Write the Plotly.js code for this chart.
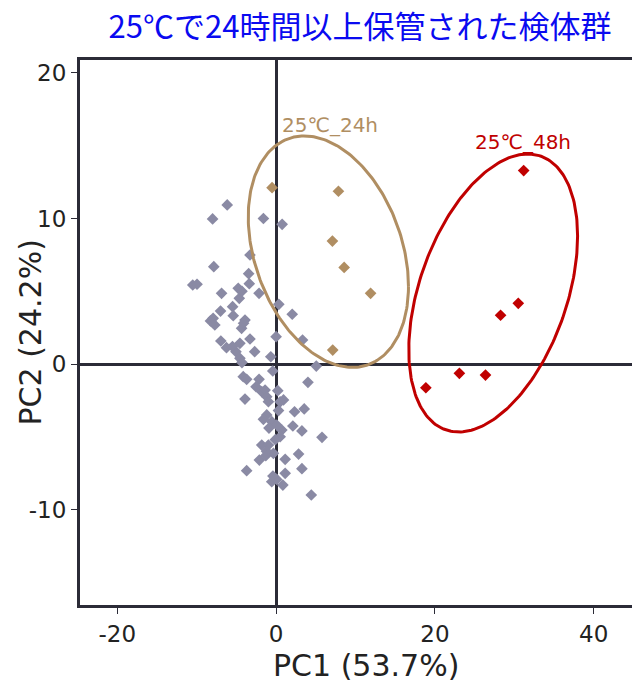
<!DOCTYPE html>
<html><head><meta charset="utf-8">
<script src="https://cdn.plot.ly/plotly-3.0.1.min.js"></script>
<style>html,body{margin:0;padding:0;overflow:hidden;background:#fff}</style>
</head><body><div id="chart" style="width:640px;height:684px"></div>
<script>
// Other samples (gray)
const otherX = [-6.16,-8.0,-1.6,0.76,-3.29,-7.85,-3.46,-3.38,-10.5,-9.96,-6.87,-4.77,-2.15,-4.64,0.34,2.03,-7.0,-5.48,-5.4,-8.27,-7.93,-7.72,-3.92,-4.35,-6.96,-6.25,-4.56,-3.29,-5.06,-4.56,-2.7,0.0,-0.67,3.33,5.06,-0.42,-4.14,-2.15,4.01,-3.71,-2.53,-1.81,-1.39,-3.92,-1.18,0.21,0.93,0.51,-0.97,2.32,3.54,-1.18,-0.55,0.08,0.72,2.11,3.25,0.51,5.78,-1.81,-0.97,-2.11,-0.34,1.14,2.83,-3.71,3.25,1.14,-0.55,0.08,0.85,4.43,-4.3,-4.1,-5.5,-4.3,-1.6,-0.9,0.3,-0.1,-1.2,-0.4,-1.3];
const otherY = [10.93,9.97,10.0,9.6,7.49,6.69,6.21,5.52,5.43,5.48,4.86,5.2,4.86,4.51,4.1,3.42,3.64,3.94,3.32,2.96,3.14,2.68,3.02,2.45,1.58,1.12,1.42,1.72,0.85,0.39,0.85,1.88,0.5,1.65,-0.14,-0.48,-0.87,-1.05,-1.26,-1.05,-1.56,-1.9,-1.79,-2.41,-2.25,-1.83,-2.47,-2.6,-2.59,-3.28,-3.09,-3.5,-3.96,-4.19,-4.54,-4.26,-4.6,-5.0,-5.04,-5.57,-5.57,-6.6,-6.14,-6.55,-6.19,-7.33,-7.19,-7.51,-8.09,-7.93,-8.32,-9.0,5.0,2.8,1.2,0.1,-3.8,-4.4,-3.2,-5.2,-6.0,-7.7,-6.3];
// 25℃_24h samples
const h24X = [-0.51,7.85,7.09,8.57,11.9,7.13];
const h24Y = [12.12,11.87,8.45,6.64,4.86,0.96];
// 25℃_48h samples
const h48X = [31.18,30.5,28.27,23.08,26.37,18.86];
const h48Y = [13.29,4.17,3.35,-0.64,-0.76,-1.63];
// Group ellipses: centre, half-width, half-height, correlation
const ellipseCx = [6.58, 27.34];
const ellipseCy = [7.72, 4.88];
const ellipseSx = [10.09, 10.63];
const ellipseSy = [7.95, 9.55];
const ellipseRho = [-0.30, 0.41];
const groupLabels = ['25℃_24h', '25℃_48h'];
const labelX = [6.84, 31.1];
const labelY = [16.43, 15.26];
// Axis ticks and titles
const xTickVals = [-20, 0, 20, 40];
const xTickText = ['-20', '0', '20', '40'];
const yTickVals = [-10, 0, 10, 20];
const yTickText = ['-10', '0', '10', '20'];
const xTitle = 'PC1 (53.7%)';
const yTitle = 'PC2 (24.2%)';

const gray = '#8a8aa4', tan = '#b08e62', red = '#c00000', dark = '#2b2b37';
const groupColors = [tan, red];

function ellipse(i) {
  const xs = [], ys = [];
  const r2 = Math.sqrt(1 - ellipseRho[i] * ellipseRho[i]);
  for (let k = 0; k <= 240; k++) {
    const t = 2 * Math.PI * k / 240;
    xs.push(ellipseCx[i] + ellipseSx[i] * Math.cos(t));
    ys.push(ellipseCy[i] + ellipseSy[i] * (ellipseRho[i] * Math.cos(t) + r2 * Math.sin(t)));
  }
  return {x: xs, y: ys, type: 'scatter', mode: 'lines', line: {color: groupColors[i], width: 3}, hoverinfo: 'skip', showlegend: false};
}

const mk = (c) => ({symbol: 'diamond', size: 9, color: c, line: {width: 0}});
const traces = [
  {x: otherX, y: otherY, type: 'scatter', mode: 'markers', marker: mk(gray), showlegend: false},
  ellipse(0), ellipse(1),
  {x: h24X, y: h24Y, type: 'scatter', mode: 'markers', marker: mk(tan), showlegend: false},
  {x: h48X, y: h48Y, type: 'scatter', mode: 'markers', marker: mk(red), showlegend: false}
];

const tickFont = {family: 'DejaVu Sans', size: 23, color: '#222'};
const titleFont = {family: 'DejaVu Sans', size: 30, color: '#222'};
const layout = {
  width: 640, height: 684,
  margin: {l: 80, r: 0, t: 60, b: 79},
  paper_bgcolor: '#fff', plot_bgcolor: '#fff',
  title: {text: '25℃で24時間以上保管された検体群', font: {family: 'Noto Sans CJK JP', size: 31, color: '#0a0af0'},
          xref: 'paper', x: 0.5, xanchor: 'center', yref: 'container', y: 1 - 27/684, yanchor: 'middle'},
  xaxis: {range: [-24.7, 45.83], tickvals: xTickVals, ticktext: xTickText, showgrid: false,
          showline: true, mirror: true, linecolor: dark, linewidth: 3,
          zeroline: true, zerolinecolor: dark, zerolinewidth: 3,
          ticks: 'outside', ticklen: 6, tickwidth: 1, tickcolor: dark, tickfont: tickFont},
  yaxis: {range: [-16.56, 20.89], tickvals: yTickVals, ticktext: yTickText, showgrid: false,
          showline: true, mirror: true, linecolor: dark, linewidth: 3,
          zeroline: true, zerolinecolor: dark, zerolinewidth: 3,
          ticks: 'outside', ticklen: 6, tickwidth: 1, tickcolor: dark, tickfont: tickFont},
  annotations: groupLabels.map((t, i) => ({text: t, x: labelX[i], y: labelY[i], xref: 'x', yref: 'y', showarrow: false,
          font: {family: 'DejaVu Sans', size: 20, color: groupColors[i]}})).concat([
          {text: yTitle, textangle: -90, xref: 'paper', yref: 'paper', x: (30 - 80) / 560, y: 0.5,
           xanchor: 'center', yanchor: 'middle', showarrow: false, font: titleFont},
          {text: xTitle, xref: 'paper', yref: 'paper', x: (366 - 80) / 560, y: -(665 - 605) / 545,
           xanchor: 'center', yanchor: 'middle', showarrow: false, font: titleFont}]),
  showlegend: false
};
Plotly.newPlot('chart', traces, layout, {displayModeBar: false, staticPlot: true});
</script></body></html>
